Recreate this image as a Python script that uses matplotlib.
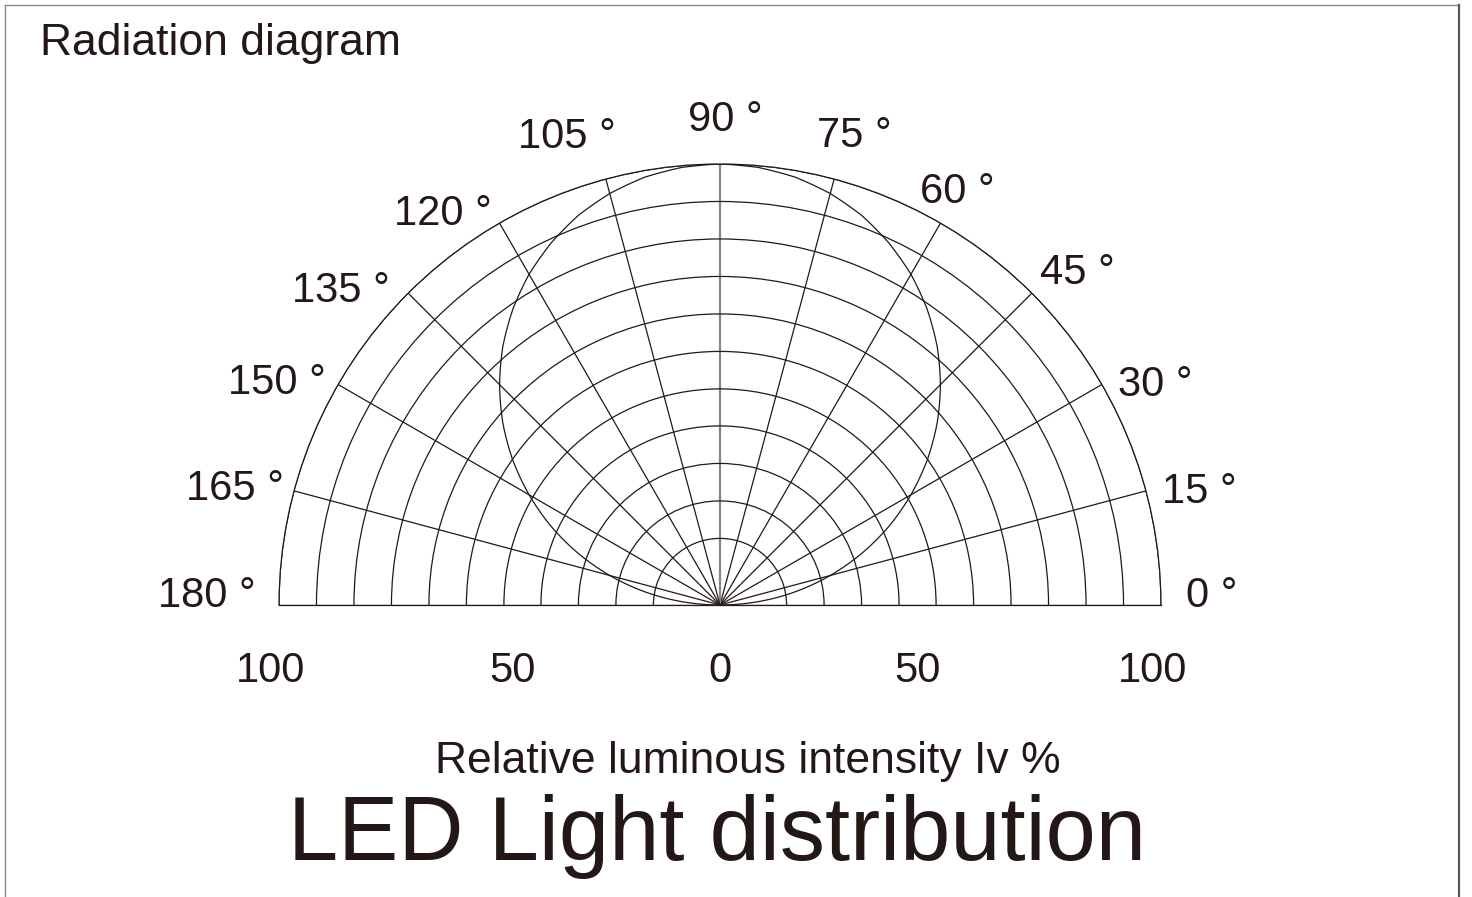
import numpy as np
import matplotlib
matplotlib.use('Agg')
import matplotlib.pyplot as plt
from matplotlib.lines import Line2D

plt.rcParams['font.family'] = ['Liberation Sans', 'DejaVu Sans']

# Lambertian-like pattern (angle in deg, relative intensity %)
angles = [0, 5, 10, 15, 20, 25, 30, 35, 40, 45, 50, 55, 60, 65, 70, 75, 80, 85, 90,
          95, 100, 105, 110, 115, 120, 125, 130, 135, 140, 145, 150, 155, 160, 165, 170, 175, 180]
intensity = [0, 8.7, 17.4, 25.9, 34.2, 42.3, 50.0, 57.4, 64.3, 70.7, 76.6, 81.9, 86.6,
             90.6, 94.0, 96.6, 98.5, 99.6, 100,
             99.6, 98.5, 96.6, 94.0, 90.6, 86.6, 81.9, 76.6, 70.7, 64.3, 57.4, 50.0,
             42.3, 34.2, 25.9, 17.4, 8.7, 0]

# grid rings (fraction of full scale) and spokes
ring_r = [0.151, 0.236, 0.321, 0.406, 0.490, 0.575, 0.660, 0.745, 0.830, 0.915, 1.0]
spokes = list(range(0, 181, 15))
angle_labels = ['%d °' % a for a in spokes]
# where each angle label sits (theta deg, radius)
lbl_theta = [1.6, 13.8, 27.3, 43.3, 60.4, 74.2, 89.4, 108.0, 125.0, 140.0, 153.0, 166.0, 178.5]
lbl_r = [1.116, 1.12, 1.11, 1.113, 1.09, 1.115, 1.11, 1.127, 1.095, 1.122, 1.129, 1.134, 1.163]

scale_labels = ['100', '50', '0', '50', '100']
scale_pos = [-1.02, -0.47, 0.0, 0.447, 0.98]

ink = '#231815'
W, H = 1472, 897
cx, cy, R = 720, 605, 441

fig = plt.figure(figsize=(W / 100, H / 100), dpi=100)
fig.patch.set_facecolor('white')

# polar axes keeps a square box; the half disc sits in its middle band
ax = fig.add_axes([(cx - R) / W, (H - (cy + R / 2)) / H, 2 * R / W, 2 * R / H],
                  projection='polar')
ax.set_thetamin(0)
ax.set_thetamax(180)
ax.set_ylim(0, 1)
ax.set_rgrids(ring_r, labels=[''] * len(ring_r))
ax.set_thetagrids(spokes, labels=[''] * len(spokes))
ax.tick_params(axis='both', length=0)
ax.grid(True, color=ink, lw=0.9)
ax.patch.set_alpha(0)
for s in ax.spines.values():
    s.set_color(ink)
    s.set_linewidth(0.9)
# the 90 deg spoke is drawn a bit heavier / greyer
gl = ax.xaxis.get_gridlines()
gl[6].set_color('#8a8686')
gl[6].set_linewidth(1.6)

th = np.deg2rad(angles)
line, = ax.plot(th, np.array(intensity) / 100.0, color=ink, lw=0.9)
line.get_path()._interpolation_steps = 16  # follow the polar curve between readings

for t, r, s in zip(lbl_theta, lbl_r, angle_labels):
    ax.text(np.deg2rad(t), r, s, ha='center', va='center_baseline',
            fontsize=30, color=ink, clip_on=False)

for p, s in zip(scale_pos, scale_labels):
    fig.text((cx + p * R) / W, (H - 682) / H, s, ha='center', va='baseline',
             fontsize=30, color=ink)

fig.text(40 / W, (H - 55) / H, 'Radiation diagram', ha='left', va='baseline',
         fontsize=32, color=ink)
fig.text(748 / W, (H - 773) / H, 'Relative luminous intensity Iv %', ha='center',
         va='baseline', fontsize=32, color=ink)
fig.text(717 / W, (H - 860) / H, 'LED Light distribution', ha='center',
         va='baseline', fontsize=65, color=ink)

# page frame
fig.add_artist(Line2D([5 / W, 1459 / W], [1 - 5 / H, 1 - 5 / H], transform=fig.transFigure,
                      color='#8a8686', lw=1.0))
fig.add_artist(Line2D([5 / W, 5 / W], [0, 1 - 5 / H], transform=fig.transFigure,
                      color='#8a8686', lw=1.0))
fig.add_artist(Line2D([1459 / W, 1459 / W], [0, 1 - 5 / H], transform=fig.transFigure,
                      color='#5a5656', lw=1.6))

fig.savefig('out.png', dpi=100)
